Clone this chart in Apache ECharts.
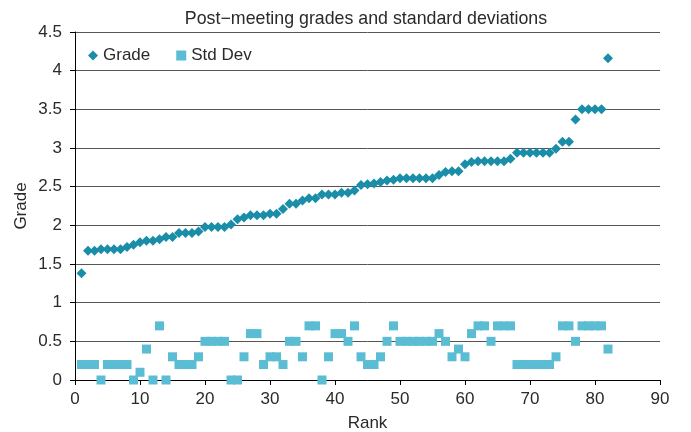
<!DOCTYPE html>
<html>
<head>
<meta charset="utf-8">
<script src="https://cdn.jsdelivr.net/npm/echarts@6/dist/echarts.min.js"></script>
<style>
html,body{margin:0;padding:0;background:#fff;}
#chart{width:691px;height:432px;}
</style>
</head>
<body>
<div id="chart"></div>
<script>
const titleText = "Post\u2212meeting grades and standard deviations";
const xName = "Rank";
const yName = "Grade";
const seriesNames = ["Grade", "Std Dev"];
const ranks = [1,2,3,4,5,6,7,8,9,10,11,12,13,14,15,16,17,18,19,20,21,22,23,24,25,26,27,28,29,30,31,32,33,34,35,36,37,38,39,40,41,42,43,44,45,46,47,48,49,50,51,52,53,54,55,56,57,58,59,60,61,62,63,64,65,66,67,68,69,70,71,72,73,74,75,76,77,78,79,80,81,82];
const grades = [1.38,1.67,1.67,1.69,1.69,1.69,1.69,1.72,1.75,1.78,
  1.80,1.80,1.82,1.85,1.85,1.90,1.90,1.90,1.92,1.98,
  1.98,1.98,1.98,2.01,2.08,2.10,2.13,2.13,2.13,2.15,
  2.15,2.21,2.28,2.28,2.32,2.35,2.35,2.40,2.40,2.40,
  2.42,2.42,2.45,2.52,2.53,2.54,2.56,2.58,2.59,2.61,
  2.61,2.61,2.61,2.61,2.61,2.65,2.69,2.70,2.70,2.79,
  2.82,2.83,2.83,2.83,2.83,2.83,2.86,2.94,2.94,2.94,
  2.94,2.94,2.94,2.99,3.08,3.08,3.37,3.50,3.50,3.50,
  3.50,4.16];
const stdDevs = [0.2,0.2,0.2,0,0.2,0.2,0.2,0.2,0,0.1,
  0.4,0,0.7,0,0.3,0.2,0.2,0.2,0.3,0.5,
  0.5,0.5,0.5,0,0,0.3,0.6,0.6,0.2,0.3,
  0.3,0.2,0.5,0.5,0.3,0.7,0.7,0,0.3,0.6,
  0.6,0.5,0.7,0.3,0.2,0.2,0.3,0.5,0.7,0.5,
  0.5,0.5,0.5,0.5,0.5,0.6,0.5,0.3,0.4,0.3,
  0.6,0.7,0.7,0.5,0.7,0.7,0.7,0.2,0.2,0.2,
  0.2,0.2,0.2,0.3,0.7,0.7,0.5,0.7,0.7,0.7,
  0.7,0.4];

const gradeColor = "#1a8ea8";
const stdColor = "#5bbdd3";
const textColor = "#2a2a2a";
const font = "'Liberation Sans', Arial, sans-serif";

const chart = echarts.init(document.getElementById('chart'), null, {renderer: 'canvas'});
chart.setOption({
  animation: false,
  backgroundColor: '#fff',
  textStyle: {fontFamily: font},
  title: {
    text: titleText,
    left: 361, top: 5, textAlign: 'center',
    textStyle: {fontSize: 17.8, fontWeight: 'normal', color: textColor, fontFamily: font}
  },
  legend: {
    left: 83, top: 42,
    itemWidth: 10, itemHeight: 10, itemGap: 26,
    textStyle: {fontSize: 17, color: textColor, fontFamily: font},
    data: [
      {name: seriesNames[0], icon: 'diamond'},
      {name: seriesNames[1], icon: 'rect'}
    ]
  },
  grid: {left: 75, right: 31, top: 32, bottom: 52, containLabel: false, outerBoundsMode: 'none'},
  xAxis: {
    type: 'value', min: 0, max: 90, interval: 10,
    name: xName, nameLocation: 'middle', nameGap: 35, nameMoveOverlap: false,
    nameTextStyle: {fontSize: 17, color: textColor, fontFamily: font},
    axisLine: {show: true, onZero: false, lineStyle: {color: '#000', width: 1}},
    axisTick: {show: true, length: 5, lineStyle: {color: '#000'}},
    axisLabel: {fontSize: 17, color: textColor, margin: 11, fontFamily: font},
    splitLine: {show: false}
  },
  yAxis: {
    type: 'value', min: 0, max: 4.5, interval: 0.5,
    name: yName, nameLocation: 'middle', nameGap: 45, nameRotate: 90, nameMoveOverlap: false,
    nameTextStyle: {fontSize: 17, color: textColor, fontFamily: font},
    axisLine: {show: true, lineStyle: {color: '#000', width: 1}},
    axisTick: {show: true, length: 5, lineStyle: {color: '#000'}},
    axisLabel: {fontSize: 17, color: textColor, margin: 13, fontFamily: font},
    splitLine: {show: true, lineStyle: {color: '#555', width: 1}}
  },
  series: [
    {
      name: seriesNames[0], type: 'scatter', symbol: 'diamond', symbolSize: [10, 10],
      itemStyle: {color: gradeColor, opacity: 1},
      data: ranks.map((r, i) => [r, grades[i]]),
      z: 3
    },
    {
      name: seriesNames[1], type: 'scatter', symbol: 'rect', symbolSize: 9,
      itemStyle: {color: stdColor, opacity: 1},
      data: ranks.map((r, i) => [r, stdDevs[i]]),
      z: 2
    }
  ]
});
</script>
</body>
</html>
